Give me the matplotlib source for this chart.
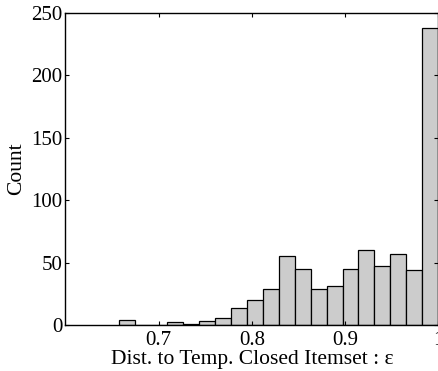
import numpy as np
import matplotlib
matplotlib.use("Agg")
import matplotlib.pyplot as plt

plt.rcParams['font.family'] = ['Liberation Serif', 'DejaVu Serif']
plt.rcParams['mathtext.fontset'] = 'stix'

# histogram of epsilon, 20 bins between the smallest value and 1
eps_min = 0.658
eps_max = 1.0
counts = [4, 0, 0, 2, 1, 3, 6, 14, 20, 29, 55, 45, 29, 31, 45, 60, 47, 57, 44, 238]
xticks = [0.7, 0.8, 0.9, 1.0]
xticklabels = ["0.7", "0.8", "0.9", "1"]
yticks = [0, 50, 100, 150, 200, 250]

edges = np.linspace(eps_min, eps_max, len(counts) + 1)

fig = plt.figure(figsize=(4.39, 3.71), dpi=100)
ax = fig.add_axes([0.149, 0.124, 0.849, 0.841])

ax.bar(edges[:-1], counts, width=np.diff(edges), align='edge',
       color='#cccccc', edgecolor='black', linewidth=0.9)

ax.set_xlim(0.6, 1.0)
ax.set_ylim(0, 250)
ax.set_xticks(xticks)
ax.set_xticklabels(xticklabels)
ax.set_yticks(yticks)
ax.tick_params(direction='in', top=True, right=True, length=3, labelsize=15)
ax.tick_params(axis='x', pad=4)
ax.tick_params(axis='y', pad=2)
for s in ax.spines.values():
    s.set_linewidth(1.0)

ax.set_xlabel("Dist. to Temp. Closed Itemset : ε", fontsize=15.5, labelpad=0.5)
ax.set_ylabel("Count", fontsize=15.5, labelpad=4)

fig.savefig("out.png", dpi=100)
